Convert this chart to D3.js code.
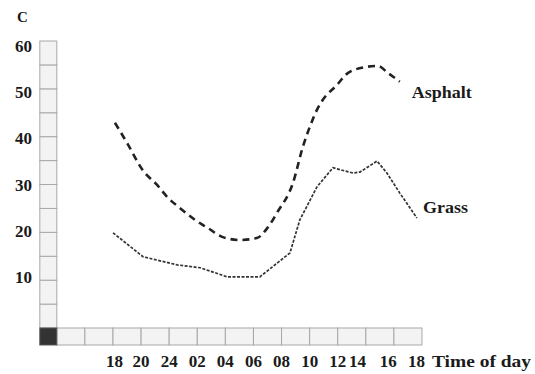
<!DOCTYPE html>
<html>
<head>
<meta charset="utf-8">
<script src="https://cdn.jsdelivr.net/npm/d3@7"></script>
<style>
body { margin: 0; background: #fff; }
text { font-family: "Liberation Serif", "Times New Roman", serif; font-weight: bold; fill: #1a1a1a; }
</style>
</head>
<body>
<div id="chart"></div>
<script>
var width = 535,
height = 374;

// tick labels on the time axis, and where they sit (in time slots)
var xLabels = ["18", "20", "24", "02", "04", "06", "08", "10", "12", "14", "16", "18"];
var xLabelSlots = [0.05, 1, 2, 3, 4, 5, 6, 7, 8, 8.7, 9.8, 10.8];
var yLabels = [10, 20, 30, 40, 50, 60];

// series: [slot, temperature C]
var asphalt = [
	[0.07, 42.9], [0.5, 38.7], [1.07, 32.9], [1.57, 29.9], [1.96, 27.2],
	[2.38, 25.1], [2.92, 22.6], [3.38, 20.9], [3.91, 19.0], [4.52, 18.4],
	[5.12, 18.8], [5.52, 21.1], [5.84, 24.1], [6.41, 30.4], [6.76, 37.9],
	[7.01, 42.1], [7.26, 45.6], [7.47, 47.7], [7.97, 50.8], [8.36, 53.3],
	[9.04, 54.6], [9.43, 54.8], [9.79, 53.3], [10.21, 51.5]
];
var grass = [
	[0, 19.9], [1.07, 14.9], [2.28, 13.2], [3.1, 12.6], [4.06, 10.7],
	[5.23, 10.7], [6.3, 15.7], [6.65, 22.6], [7.26, 29.5], [7.83, 33.5],
	[8.54, 32.4], [8.79, 32.6], [9.4, 34.9], [9.75, 32.4], [10.21, 28.2],
	[10.82, 23.0]
];

var x = d3.scaleLinear().domain([0, 11]).range([113, 422]);
var y = d3.scaleLinear().domain([0, 60]).range([328, 41]);
// labels on the y side are spaced a little tighter than the grid
var yLabel = d3.scaleLinear().domain([0, 60]).range([329, 52]);

var svg = d3.select("#chart").append("svg")
.attr("width", width)
.attr("height", height);

var cell = 17;

// vertical scale column, one cell per 5 degrees
var colX = x(-2) - cell;
svg.append("g").selectAll("rect")
.data(d3.range(0, 60, 5))
.enter().append("rect")
.attr("x", colX)
.attr("y", function(d) { return y(d + 5); })
.attr("width", cell)
.attr("height", function(d) { return y(d) - y(d + 5); })
.attr("fill", "#f3f3f3")
.attr("stroke", "#a8a8a8")
.attr("stroke-width", 1);

// bottom time row
svg.append("g").selectAll("rect")
.data(d3.range(-2, 11))
.enter().append("rect")
.attr("x", function(d) { return x(d); })
.attr("y", y(0))
.attr("width", function(d) { return x(d + 1) - x(d); })
.attr("height", cell)
.attr("fill", "#f3f3f3")
.attr("stroke", "#a8a8a8")
.attr("stroke-width", 1);

// dark corner square
svg.append("rect")
.attr("x", colX)
.attr("y", y(0))
.attr("width", x(-2) - colX)
.attr("height", cell)
.attr("fill", "#333")
.attr("stroke", "#555");

// y labels
svg.append("g").selectAll("text")
.data(yLabels)
.enter().append("text")
.attr("x", 32)
.attr("y", function(d) { return yLabel(d); })
.attr("text-anchor", "end")
.attr("font-size", 17)
.text(function(d) { return d; });

svg.append("text")
.attr("x", 17)
.attr("y", 22)
.attr("font-size", 15)
.text("C");

// x labels
svg.append("g").selectAll("text")
.data(xLabels)
.enter().append("text")
.attr("x", function(d, i) { return x(xLabelSlots[i]); })
.attr("y", 367)
.attr("text-anchor", "middle")
.attr("font-size", 17)
.text(function(d) { return d; });

svg.append("text")
.attr("x", 432)
.attr("y", 367)
.attr("font-size", 17)
.attr("textLength", 99)
.attr("lengthAdjust", "spacingAndGlyphs")
.text("Time of day");

// lines
var lineSmooth = d3.line()
.x(function(d) { return x(d[0]); })
.y(function(d) { return y(d[1]); })
.curve(d3.curveMonotoneX);

var lineStraight = d3.line()
.x(function(d) { return x(d[0]); })
.y(function(d) { return y(d[1]); });

svg.append("path")
.datum(asphalt)
.attr("d", lineSmooth)
.attr("fill", "none")
.attr("stroke", "#222")
.attr("stroke-width", 2.6)
.attr("stroke-dasharray", "7,5");

svg.append("path")
.datum(grass)
.attr("d", lineStraight)
.attr("fill", "none")
.attr("stroke", "#333")
.attr("stroke-width", 1.7)
.attr("stroke-dasharray", "3,1.5");

// series labels near the line ends
var aEnd = asphalt[asphalt.length - 1],
gEnd = grass[grass.length - 1];

svg.append("text")
.attr("x", x(aEnd[0]) + 12)
.attr("y", y(aEnd[1]) + 16)
.attr("font-size", 17)
.attr("textLength", 60)
.attr("lengthAdjust", "spacingAndGlyphs")
.text("Asphalt");

svg.append("text")
.attr("x", x(gEnd[0]) + 6)
.attr("y", y(gEnd[1]) - 5)
.attr("font-size", 17)
.attr("textLength", 45)
.attr("lengthAdjust", "spacingAndGlyphs")
.text("Grass");
</script>
</body>
</html>
